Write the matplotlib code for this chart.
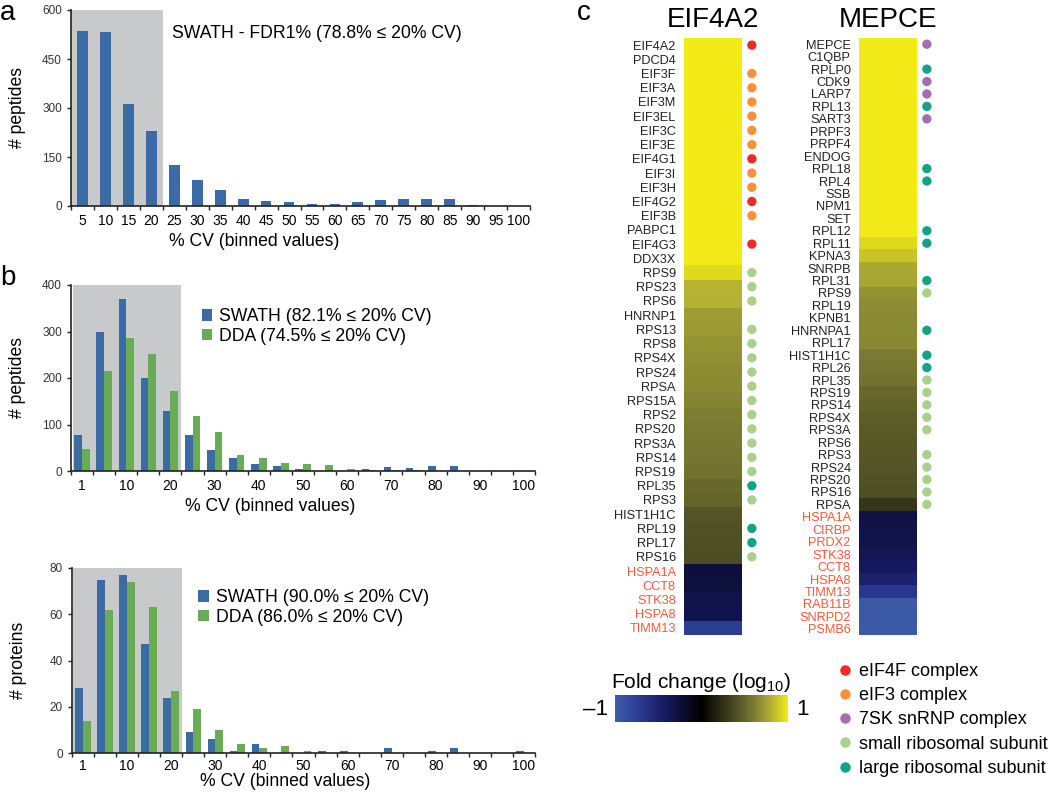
import numpy as np
import matplotlib.pyplot as plt
from matplotlib.colors import LinearSegmentedColormap
from matplotlib.lines import Line2D

plt.rcParams['font.family'] = ['Liberation Sans', 'DejaVu Sans']
plt.rcParams['mathtext.default'] = 'regular'

# ---- panel a
cv_a = [5, 10, 15, 20, 25, 30, 35, 40, 45, 50, 55, 60, 65, 70, 75, 80, 85, 90, 95, 100]
fdr_swath = [537, 533, 312, 231, 126, 80, 48, 22, 14, 11, 6, 6, 12, 17, 20, 21, 21, 2, 1, 1]

# ---- panel b
cv_b = [1, 5, 10, 15, 20, 25, 30, 35, 40, 45, 50, 55, 60, 65, 70, 75, 80, 85, 90, 95, 100]
pep_swath = [77, 298, 370, 201, 129, 77, 45, 29, 15, 11, 4, 1, 1, 4, 9, 6, 10, 10, 1, 1, 1]
pep_dda = [48, 216, 287, 251, 172, 118, 84, 34, 28, 17, 14, 13, 4, 2, 2, 3, 1, 1, 1, 1, 1]
prot_swath = [28, 75, 77, 47, 24, 9, 6, 1, 4, 0, 0, 1, 1, 0, 2, 0, 1, 2, 0, 0, 1]
prot_dda = [14, 62, 74, 63, 27, 19, 10, 4, 2, 3, 1, 0, 0, 0, 0, 0, 0, 0, 0, 0, 0]

# ---- panel c
eif_genes = ['EIF4A2', 'PDCD4', 'EIF3F', 'EIF3A', 'EIF3M', 'EIF3EL', 'EIF3C', 'EIF3E',
             'EIF4G1', 'EIF3I', 'EIF3H', 'EIF4G2', 'EIF3B', 'PABPC1', 'EIF4G3', 'DDX3X',
             'RPS9', 'RPS23', 'RPS6', 'HNRNP1', 'RPS13', 'RPS8', 'RPS4X', 'RPS24', 'RPSA',
             'RPS15A', 'RPS2', 'RPS20', 'RPS3A', 'RPS14', 'RPS19', 'RPL35', 'RPS3',
             'HIST1H1C', 'RPL19', 'RPL17', 'RPS16',
             'HSPA1A', 'CCT8', 'STK38', 'HSPA8', 'TIMM13']
eif_fc = [1.0, 1.0, 1.0, 1.0, 1.0, 1.0, 1.0, 1.0, 1.0, 1.0, 1.0, 1.0, 1.0, 1.0, 1.0, 1.0,
          0.94, 0.82, 0.81, 0.73, 0.72, 0.70, 0.68, 0.67, 0.66, 0.64, 0.61, 0.60, 0.59,
          0.58, 0.56, 0.52, 0.50, 0.43, 0.42, 0.41, 0.40,
          -0.27, -0.28, -0.33, -0.34, -0.75]
eif_group = ['F', '', '3', '3', '3', '3', '3', '3', 'F', '3', '3', 'F', '3', '', 'F', '',
             'S', 'S', 'S', '', 'S', 'S', 'S', 'S', 'S', 'S', 'S', 'S', 'S', 'S', 'S', 'L', 'S',
             '', 'L', 'L', 'S',
             '', '', '', '', '']

mep_genes = ['MEPCE', 'C1QBP', 'RPLP0', 'CDK9', 'LARP7', 'RPL13', 'SART3', 'PRPF3', 'PRPF4',
             'ENDOG', 'RPL18', 'RPL4', 'SSB', 'NPM1', 'SET', 'RPL12', 'RPL11', 'KPNA3', 'SNRPB',
             'RPL31', 'RPS9', 'RPL19', 'KPNB1', 'HNRNPA1', 'RPL17', 'HIST1H1C', 'RPL26',
             'RPL35', 'RPS19', 'RPS14', 'RPS4X', 'RPS3A', 'RPS6', 'RPS3', 'RPS24', 'RPS20',
             'RPS16', 'RPSA',
             'HSPA1A', 'CIRBP', 'PRDX2', 'STK38', 'CCT8', 'HSPA8', 'TIMM13', 'RAB11B',
             'SNRPD2', 'PSMB6']
mep_fc = [1.0, 1.0, 1.0, 1.0, 1.0, 1.0, 1.0, 1.0, 1.0, 1.0, 1.0, 1.0, 1.0, 1.0, 1.0, 1.0,
          0.94, 0.87, 0.78, 0.77, 0.69, 0.67, 0.66, 0.66, 0.65, 0.60, 0.58, 0.56, 0.52,
          0.49, 0.47, 0.46, 0.45, 0.44, 0.43, 0.42, 0.41, 0.28,
          -0.30, -0.33, -0.33, -0.38, -0.40, -0.50, -0.70, -0.95, -0.95, -0.96]
mep_group = ['7', '', 'L', '7', '7', 'L', '7', '', '', '', 'L', 'L', '', '', '', 'L', 'L',
             '', '', 'L', 'S', '', '', 'L', '', 'L', 'L',
             'S', 'S', 'S', 'S', 'S', '', 'S', 'S', 'S', 'S', 'S',
             '', '', '', '', '', '', '', '', '', '']

group_names = {'F': 'eIF4F complex', '3': 'eIF3 complex', '7': '7SK snRNP complex',
               'S': 'small ribosomal subunit', 'L': 'large ribosomal subunit'}
group_colors = {'F': '#ee2a27', '3': '#f7923b', '7': '#a66bb0', 'S': '#a9d18e', 'L': '#10a386'}

blue = '#3b6ba5'
green = '#6aab57'
shade = '#c8c9cb'
red_txt = '#f15a3f'

cmap = LinearSegmentedColormap.from_list('fc', [
    (0.0, '#3f5eaa'), (0.15, '#29388f'), (0.3, '#15185a'), (0.5, '#000000'),
    (0.7, '#4d4d24'), (0.8, '#7a7a33'), (0.9, '#b0ae33'), (1.0, '#f2eb17')])

W, H = 1050, 795
fig = plt.figure(figsize=(W / 100, H / 100), dpi=100)


def px_axes(l, t, r, b):
    return fig.add_axes([l / W, 1 - b / H, (r - l) / W, (b - t) / H])


def cv_hist(ax, cats, series, colors, width, xlo, shade_to, ymax, step, ylabel, every, pad=6):
    n = len(cats)
    x = np.arange(n)
    ax.axvspan(xlo, shade_to, color=shade, lw=0, zorder=0)
    k = len(series)
    for j, (vals, col) in enumerate(zip(series, colors)):
        off = (j - (k - 1) / 2) * width
        ax.bar(x + off, vals, width, color=col, zorder=2)
    ax.set_xlim(xlo, n - 0.5)
    ax.set_ylim(0, ymax)
    ax.set_yticks(np.arange(0, ymax + 1, step))
    ax.set_xticks(np.arange(-0.5, n, 1))
    ax.set_xticklabels([])
    ax.set_xticks(x[::every], [str(c) for c in cats[::every]], minor=True)
    ax.tick_params(which='major', direction='out', length=3, width=1, color='#222')
    ax.tick_params(which='minor', length=0, pad=pad)
    ax.tick_params(labelsize=8.5, labelcolor='#333')
    for s in ['top', 'right']:
        ax.spines[s].set_visible(False)
    for s in ['left', 'bottom']:
        ax.spines[s].set_linewidth(1.2)
        ax.spines[s].set_color('#222')
    ax.set_ylabel(ylabel, fontsize=12.7)
    ax.set_xlabel('% CV (binned values)', fontsize=12.7)


# panel a
ax_a = px_axes(71, 10, 530, 206)
cv_hist(ax_a, cv_a, [fdr_swath], [blue], 0.47, -0.5, 3.5, 600, 150, '# peptides', 1)
ax_a.yaxis.set_label_coords(-0.097, 0.5)
ax_a.xaxis.set_label_coords(0.40, -0.14)
ax_a.text(0.22, 0.88, 'SWATH - FDR1% (78.8% ≤ 20% CV)', transform=ax_a.transAxes,
          fontsize=12.7, va='center')

# panel b top
ax_b1 = px_axes(71, 285, 535, 471)
cv_hist(ax_b1, cv_b, [pep_swath, pep_dda], [blue, green], 0.35, -0.4, 4.5, 400, 100,
        '# peptides', 2)
ax_b1.yaxis.set_label_coords(-0.097, 0.5)
ax_b1.xaxis.set_label_coords(0.43, -0.145)
ax_b1.containers[0].set_label('SWATH (82.1% ≤ 20% CV)')
ax_b1.containers[1].set_label('DDA (74.5% ≤ 20% CV)')
ax_b1.legend(loc='upper left', bbox_to_anchor=(0.282, 0.875), frameon=False, fontsize=12.7,
             handlelength=0.6, handleheight=0.6, handletextpad=0.4, labelspacing=0.15,
             borderpad=0, borderaxespad=0)

# panel b bottom
ax_b2 = px_axes(72, 568, 535, 753)
cv_hist(ax_b2, cv_b, [prot_swath, prot_dda], [blue, green], 0.35, -0.46, 4.5, 80, 20,
        '# proteins', 2, pad=4)
ax_b2.yaxis.set_label_coords(-0.097, 0.5)
ax_b2.xaxis.set_label_coords(0.46, -0.11)
ax_b2.containers[0].set_label('SWATH (90.0% ≤ 20% CV)')
ax_b2.containers[1].set_label('DDA (86.0% ≤ 20% CV)')
ax_b2.legend(loc='upper left', bbox_to_anchor=(0.272, 0.885), frameon=False, fontsize=12.7,
             handlelength=0.6, handleheight=0.6, handletextpad=0.4, labelspacing=0.15,
             borderpad=0, borderaxespad=0)


# panel c
def heat(ax, genes, fc, groups, title):
    n = len(genes)
    im = ax.imshow(np.array(fc)[:, None], cmap=cmap, vmin=-1, vmax=1, aspect='auto',
                   extent=(0, 1, n, 0), interpolation='nearest')
    ax.set_xlim(0, 1)
    ax.set_ylim(n, 0)
    ax.set_xticks([])
    ax.set_yticks(np.arange(n) + 0.5, genes)
    ax.tick_params(axis='y', length=0, pad=6, labelsize=9.2)
    for lab, v in zip(ax.get_yticklabels(), fc):
        lab.set_color(red_txt if v < 0 else '#222')
    for s in ax.spines.values():
        s.set_visible(False)
    idx = [i for i, g in enumerate(groups) if g]
    ax.scatter([1.17] * len(idx), np.array(idx) + 0.5, s=45, lw=0,
               c=[group_colors[groups[i]] for i in idx], clip_on=False)
    ax.set_title(title, fontsize=20, pad=8)
    return im


ax_c1 = px_axes(684, 38, 742, 635)
im = heat(ax_c1, eif_genes, eif_fc, eif_group, 'EIF4A2')
ax_c2 = px_axes(859, 38, 917, 635)
heat(ax_c2, mep_genes, mep_fc, mep_group, 'MEPCE')

cax = px_axes(615, 695, 788, 722)
cb = fig.colorbar(im, cax=cax, orientation='horizontal')
cb.set_ticks([])
cb.outline.set_visible(False)
cax.set_title('Fold change (log$_{10}$)', fontsize=15, pad=5)
cax.text(-0.04, 0.45, '–1', transform=cax.transAxes, ha='right', va='center', fontsize=16)
cax.text(1.05, 0.45, '1', transform=cax.transAxes, ha='left', va='center', fontsize=16)

handles = [Line2D([], [], ls='', marker='o', ms=7.5, mec='none', mfc=group_colors[k])
           for k in group_names]
fig.legend(handles, list(group_names.values()), loc='upper left',
           bbox_to_anchor=(836 / W, 1 - 663 / H), frameon=False, fontsize=13,
           handlelength=1, handletextpad=0.3, labelspacing=0.4, borderpad=0,
           borderaxespad=0)

# panel letters
fig.text(0 / W, 1 - 20 / H, 'a', fontsize=20, va='baseline')
fig.text(0 / W, 1 - 285 / H, 'b', fontsize=20, va='baseline')
fig.text(577 / W, 1 - 20 / H, 'c', fontsize=20, va='baseline')

fig.savefig('out.png', dpi=100)
